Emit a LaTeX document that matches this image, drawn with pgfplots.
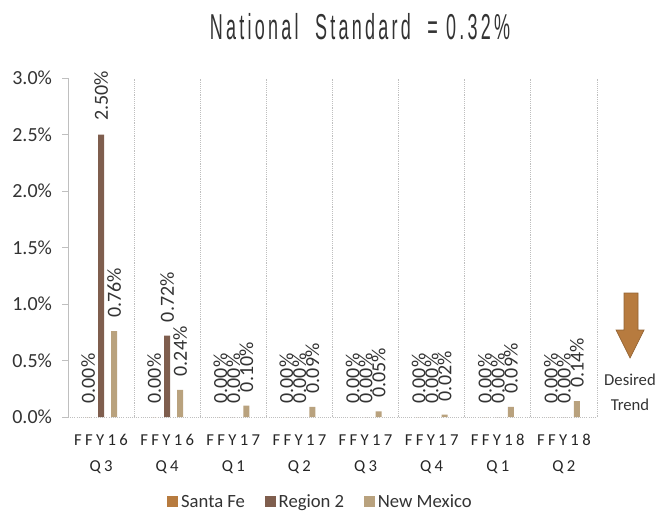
\documentclass[border=0pt]{standalone}
\usepackage{fontspec}
\usepackage{pgfplots}
\usepackage{pgfplotstable}
\pgfplotsset{compat=1.18}
\setmainfont{Carlito}
\newfontfamily\catfont[LetterSpace=20]{Carlito}
\newfontfamily\titlefont[FakeStretch=0.5,LetterSpace=9]{Liberation Sans}
\definecolor{santafe}{HTML}{B77B3F}
\definecolor{region}{HTML}{7F5E4E}
\definecolor{newmex}{HTML}{B9A27E}
\definecolor{gridc}{HTML}{BFBFBF}
\definecolor{txt}{HTML}{333333}
\pgfplotstableread{
x sf r2 nm
0 0 2.50 0.76
1 0 0.72 0.24
2 0 0 0.10
3 0 0 0.09
4 0 0 0.05
5 0 0 0.02
6 0 0 0.09
7 0 0 0.14
}\datatable
\begin{document}
\begin{tikzpicture}
\path[use as bounding box] (0,0) rectangle (501pt,386.25pt);
\begin{axis}[
  at={(51pt,73.5pt)}, anchor=south west,
  scale only axis, width=396.75pt, height=254.25pt,
  xmin=-0.5, xmax=7.5, ymin=0, ymax=3,
  ybar=5.25pt, bar width=4.5pt,
  axis line style={draw=none},
  xtick={0,...,7},
  xticklabels={FFY16\\Q3,FFY16\\Q4,FFY17\\Q1,FFY17\\Q2,FFY17\\Q3,FFY17\\Q4,FFY18\\Q1,FFY18\\Q2},
  xticklabel style={align=center, font=\catfont\fontsize{12.5}{19.5}\selectfont, text=black!85, yshift=-5pt},
  xtick style={draw=none},
  minor xtick={-0.5,0.5,...,7.5},
  minor tick length=0pt,
  xminorgrids, minor grid style={densely dotted, gridc, line width=0.6pt},
  ytick={0,0.5,...,3},
  ytick pos=left, tick align=outside, major tick length=4.5pt,
  ytick style={gridc, line width=0.6pt},
  yticklabels={0.0\%,0.5\%,1.0\%,1.5\%,2.0\%,2.5\%,3.0\%},
  yticklabel style={font=\fontsize{15}{15}\selectfont, text=txt, xshift=-4pt},
  /pgf/number format/assume math mode=true,
  nodes near coords={\pgfmathprintnumber[fixed,fixed zerofill,precision=2]{\pgfplotspointmeta}\%},
  every node near coord/.append style={rotate=90, anchor=west, inner xsep=10pt, inner ysep=0pt, font=\fontsize{15}{15}\selectfont, text=txt},
  legend columns=3,
  legend style={draw=none, at={(0.478,-0.2507)}, anchor=center, font=\fontsize{14}{14}\selectfont, text=txt,
    /tikz/every even column/.append style={column sep=13pt}},
  legend image code/.code={\fill[#1] (0pt,-4pt) rectangle (8.25pt,4.25pt);},
]
\addplot[fill=santafe, draw=none] table[x=x,y=sf]{\datatable};
\addplot[fill=region, draw=none] table[x=x,y=r2]{\datatable};
\addplot[fill=newmex, draw=none] table[x=x,y=nm]{\datatable};
\legend{Santa Fe,Region 2,New Mexico}
\draw[densely dotted, gridc, line width=0.6pt] (rel axis cs:0,0) -- (rel axis cs:1,0);
\draw[gridc, line width=0.6pt] (rel axis cs:0,0) -- (rel axis cs:0,1);
\end{axis}
\node[font=\titlefont\fontsize{27}{30}\selectfont, text=txt] at (270pt,366pt) {National\ \ Standard\ \ = 0.32\%};
\filldraw[fill=santafe, draw=santafe!80!black, line width=0.5pt]
  (468pt,166.5pt) -- (478.5pt,166.5pt) -- (478.5pt,138.75pt) -- (483pt,138.75pt)
  -- (472.5pt,117.75pt) -- (462pt,138.75pt) -- (468pt,138.75pt) -- cycle;
\node[font=\fontsize{12.5}{12.5}\selectfont, text=txt] at (472.5pt,101.25pt) {Desired};
\node[font=\fontsize{12.5}{12.5}\selectfont, text=txt] at (472.5pt,82.5pt) {Trend};
\end{tikzpicture}
\end{document}
